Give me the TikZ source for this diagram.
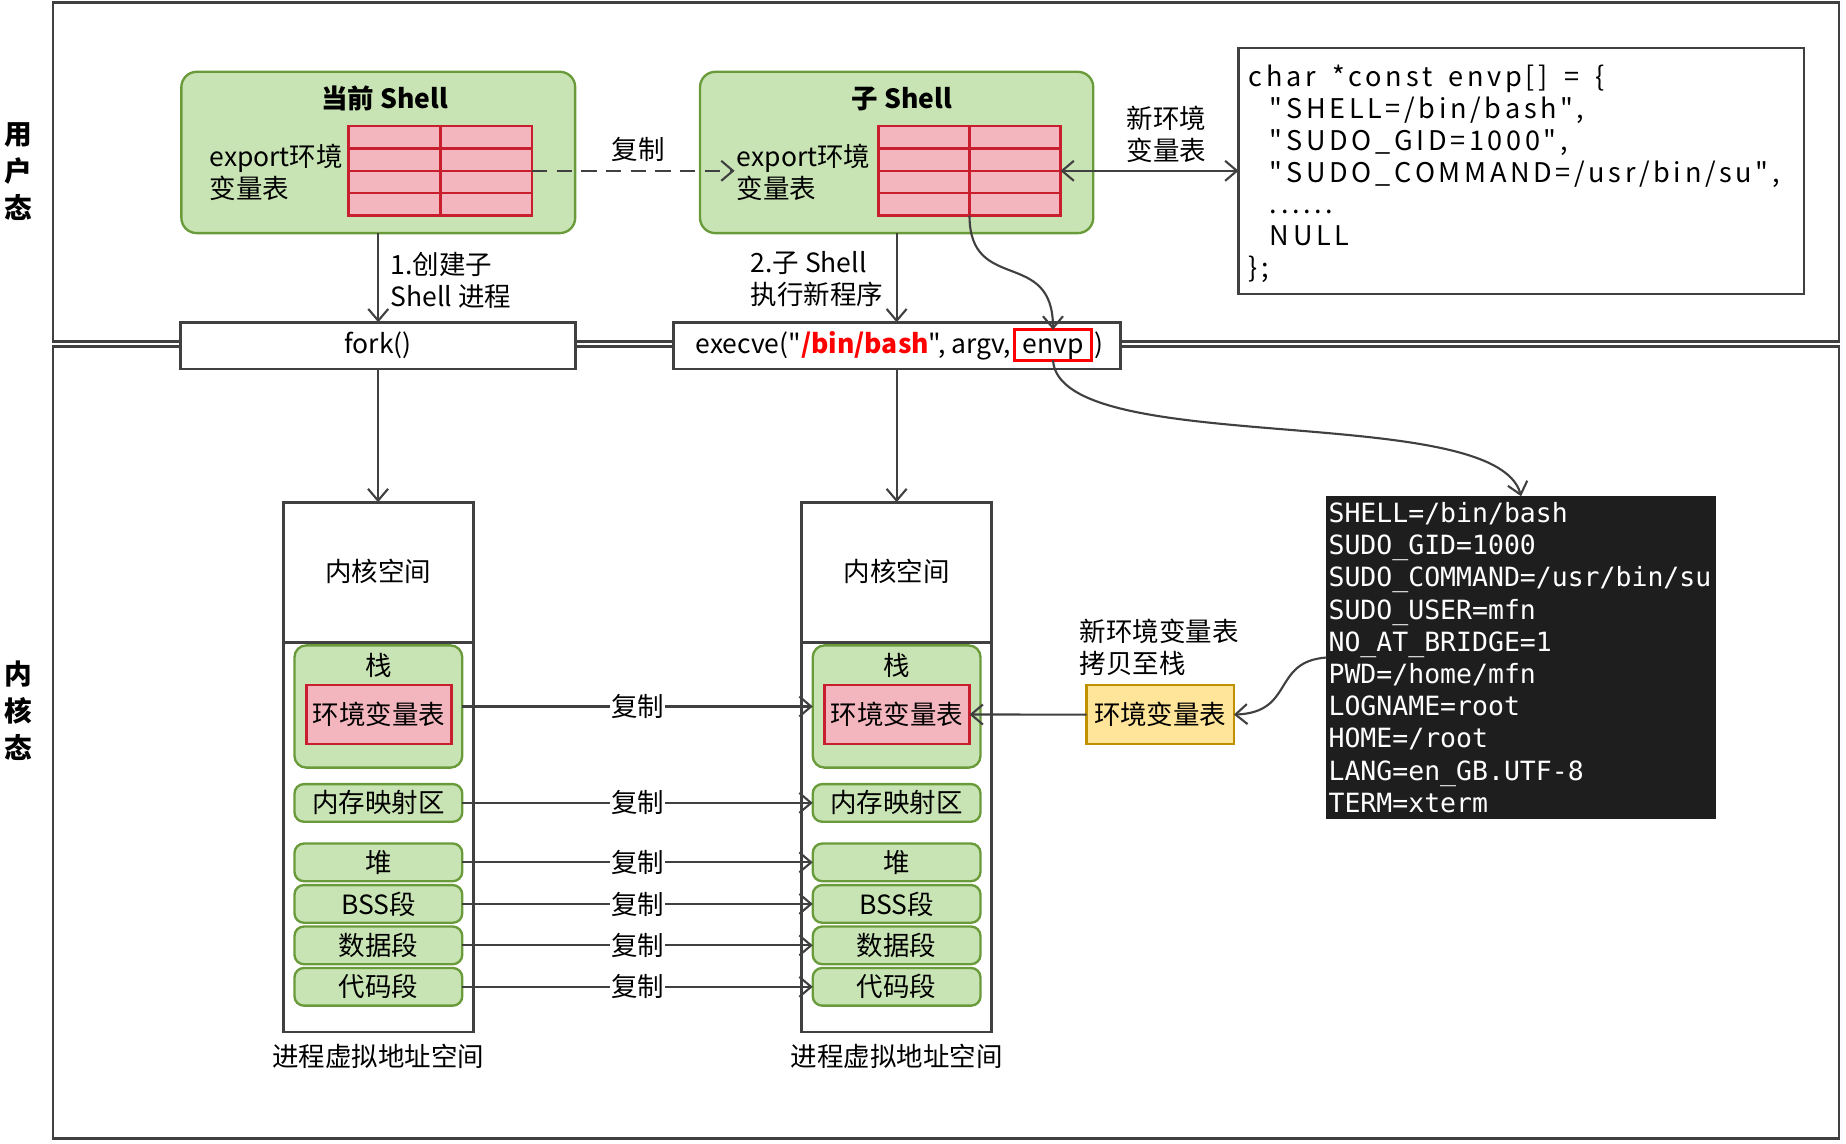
\documentclass[tikz,border=0pt]{standalone}
\usepackage{fontspec}
\setmainfont{Noto Sans CJK SC}
\newfontfamily\cjkf{Noto Sans CJK SC}
\newfontfamily\codefont{Noto Sans CJK SC}
\newfontfamily\termfont{DejaVu Sans Mono}
\usetikzlibrary{arrows.meta,calc}
\makeatletter
\def\lspc#1{\lspcA#1\relax}
\def\lspcA#1{\ifx#1\relax\else#1\kern3.1pt\expandafter\lspcA\fi}
\makeatother
\definecolor{frame}{HTML}{404040}
\definecolor{gfill}{HTML}{C9E4B4}
\definecolor{gdraw}{HTML}{6A9B3B}
\definecolor{pfill}{HTML}{F4B6BE}
\definecolor{pdraw}{HTML}{C81E2D}
\definecolor{yfill}{HTML}{FFE599}
\definecolor{ydraw}{HTML}{BF9000}
\definecolor{termbg}{HTML}{1E1E1E}
\definecolor{pured}{HTML}{FF0000}
\begin{document}
\begin{tikzpicture}[x=1pt,y=-1pt,
  >={Straight Barb[length=10pt,width=17pt]},
  every node/.style={font=\cjkf\fontsize{22.5}{27}\selectfont, inner sep=0pt, outer sep=0pt},
  frm/.style={draw=frame, line width=2.4pt},
  arr/.style={draw=frame, line width=1.8pt, ->},
  gbox/.style={rectangle, rounded corners=13pt, fill=gfill, draw=gdraw, line width=2pt},
  sbox/.style={rectangle, rounded corners=8pt, fill=gfill, draw=gdraw, line width=2pt, minimum width=142.5pt},
  pbox/.style={rectangle, fill=pfill, draw=pdraw, line width=2.2pt},
  tabline/.style={draw=pdraw, line width=2.2pt},
  lbl/.style={fill=white, inner sep=1pt},
  sidelbl/.style={font=\cjkf\fontsize{23.5}{31.5}\selectfont\bfseries, align=center},
]
\useasboundingbox (0,0) rectangle (1568,971);

% frames
\draw[frm] (45,2) rectangle (1562,290);
\draw[frm] (45,294.5) rectangle (1562,967);
\node[sidelbl] (userlbl) at (15.5,146) {用\\户\\态};
\node[sidelbl] (kernlbl) at (15.5,604) {内\\核\\态};

% current shell
\node[gbox, minimum width=334.5pt, minimum height=137pt] (cur) at (321.3,129.5) {};
\node[font=\cjkf\fontsize{22.5}{27}\selectfont\bfseries] (curtitle) at (326.6,84) {当前 Shell};
\node[anchor=west, align=left] (curtxt) at (178,146.5) {export环境\\变量表};
\node[pbox, minimum width=155.5pt, minimum height=76pt] (curtab) at (374,145.1) {};
\draw[tabline] (curtab.north) -- (curtab.south);
\foreach \t in {0.25,0.5,0.75}
  \draw[tabline] ($(curtab.north west)!\t!(curtab.south west)$) -- ($(curtab.north east)!\t!(curtab.south east)$);

% sub shell
\node[gbox, minimum width=334pt, minimum height=137pt] (sub) at (761.6,129.5) {};
\node[font=\cjkf\fontsize{22.5}{27}\selectfont\bfseries] (subtitle) at (766,84) {子 Shell};
\node[anchor=west, align=left, inner xsep=2pt] (subtxt) at (624,146.5) {export环境\\变量表};
\node[pbox, minimum width=154.5pt, minimum height=76pt] (subtab) at (823.5,145.1) {};
\draw[tabline] (subtab.north) -- (subtab.south);
\foreach \t in {0.25,0.5,0.75}
  \draw[tabline] ($(subtab.north west)!\t!(subtab.south west)$) -- ($(subtab.north east)!\t!(subtab.south east)$);

% envp code box
\node[draw=frame, line width=2pt, minimum width=480.4pt, minimum height=209.2pt, text width=463pt, align=left,
      font=\codefont\fontsize{23}{27}\selectfont] (code) at (1292.2,145.1)
  {\rule{0pt}{23.5pt}\lspc{char\ *const\ envp[]\ =\ \{}\\
   \hspace*{18pt}\lspc{"SHELL=/bin/bash",}\\
   \hspace*{18pt}\lspc{"SUDO\_GID=1000",}\\
   \hspace*{18pt}\lspc{"SUDO\_COMMAND=/usr/bin/su",}\\
   \hspace*{18pt}\lspc{......}\\
   \hspace*{18pt}\lspc{NULL}\\
   \lspc{\};}};

% copy dashed
\draw[arr, dash pattern=on 13pt off 8pt] (curtab.east) -- (curtab.east -| subtxt.west);
\node (copylbl) at (542,127) {复制};
% new env table
\draw[draw=frame, line width=1.8pt, <->] (subtab.east) -- (subtab.east -| code.west);
\node[align=center] (newlbl) at (990.8,114) {新环境\\变量表};

% syscalls
\node[frm, fill=white, minimum width=335.2pt, minimum height=39.6pt] (fork) at (321.1,293.6) {};
\node[anchor=base] (forktxt) at (321.1,300) {fork()};
\node[frm, fill=white, minimum width=380pt, minimum height=39.6pt] (execve) at (762,293.6) {};
\node[anchor=base east] (exectxt) at (859,300) {execve("\textcolor{pured}{\bfseries /bin/bash}", argv,};
\node[anchor=base, draw=pured, line width=2.2pt, minimum width=65.2pt, text height=20pt, text depth=6pt] (envp) at (894.4,300) {envp};
\node[anchor=base west] (closep) at (930,300) {)};

\draw[arr] (cur.south) -- (cur.south |- fork.north);
\node[anchor=west, align=left] (step1) at (331.8,237.9) {1.创建子\\Shell 进程};
\draw[arr] (sub.south) -- (sub.south |- execve.north);
\node[anchor=west, align=left] (step2) at (637.5,237.2) {2.子 Shell\\执行新程序};
\draw[arr] (subtab.south) .. controls (823.5,250) and (894.4,210) .. (envp.north);

% kernel columns
\foreach \p/\x in {l/321.4, r/761.6} {
  \node[frm, minimum width=161.4pt, minimum height=450pt] (\p col) at (\x,651.6) {};
  \draw[frm] (\p col.west |- 0,546) -- (\p col.east |- 0,546);
  \node (\p kspace) at (\x,485.4) {内核空间};
  \node[sbox, minimum height=103.8pt, rounded corners=10pt] (\p stack) at (\x,600.1) {};
  \node (\p stacklbl) at (\x,565.5) {栈};
  \node[pbox, minimum width=123pt, minimum height=50pt] (\p env) at (\x+0.4,606.9) {环境变量表};
  \node[sbox, minimum height=32pt] (\p mmap) at (\x,682) {内存映射区};
  \node[sbox, minimum height=32pt] (\p heap) at (\x,732.5) {堆};
  \node[sbox, minimum height=32pt] (\p bss) at (\x,767.8) {BSS段};
  \node[sbox, minimum height=32pt] (\p data) at (\x,803) {数据段};
  \node[sbox, minimum height=32pt] (\p code) at (\x,838.2) {代码段};
  \node (\p vas) at (\x,897) {进程虚拟地址空间};
}
\foreach \n in {stack,mmap,heap,bss,data,code}
  \draw[arr] (l\n.east) -- (r\n.west) node[lbl, pos=0.5] {复制};

\draw[arr] (fork.south) -- (fork.south |- lcol.north);
\draw[arr] (rcol.north |- execve.south) -- (rcol.north);

% terminal
\node[fill=termbg, minimum width=331pt, minimum height=274pt, text width=327pt, align=left, text=white,
      font=\fontsize{22.5}{27.33}\selectfont\termfont] (term) at (1292,558.5)
  {SHELL=/bin/bash\\
   SUDO\_GID=1000\\
   SUDO\_COMMAND=/usr/bin/su\\
   SUDO\_USER=mfn\\
   NO\_AT\_BRIDGE=1\\
   PWD=/home/mfn\\
   LOGNAME=root\\
   HOME=/root\\
   LANG=en\_GB.UTF-8\\
   TERM=xterm};
\draw[arr] (envp.south) .. controls (900,390) and (1270,340) .. (term.north);

% yellow env table
\node[fill=yfill, draw=ydraw, line width=2.2pt, minimum width=125pt, minimum height=50pt] (yenv) at (985.5,607) {环境变量表};
\node[anchor=west, align=left] (ylbl) at (917,550) {新环境变量表\\拷贝至栈};
\draw[arr] (yenv.west) -- (renv.east);
\draw[arr] (term.west) .. controls (1080,562) and (1100,605) .. (yenv.east);
\end{tikzpicture}
\end{document}
